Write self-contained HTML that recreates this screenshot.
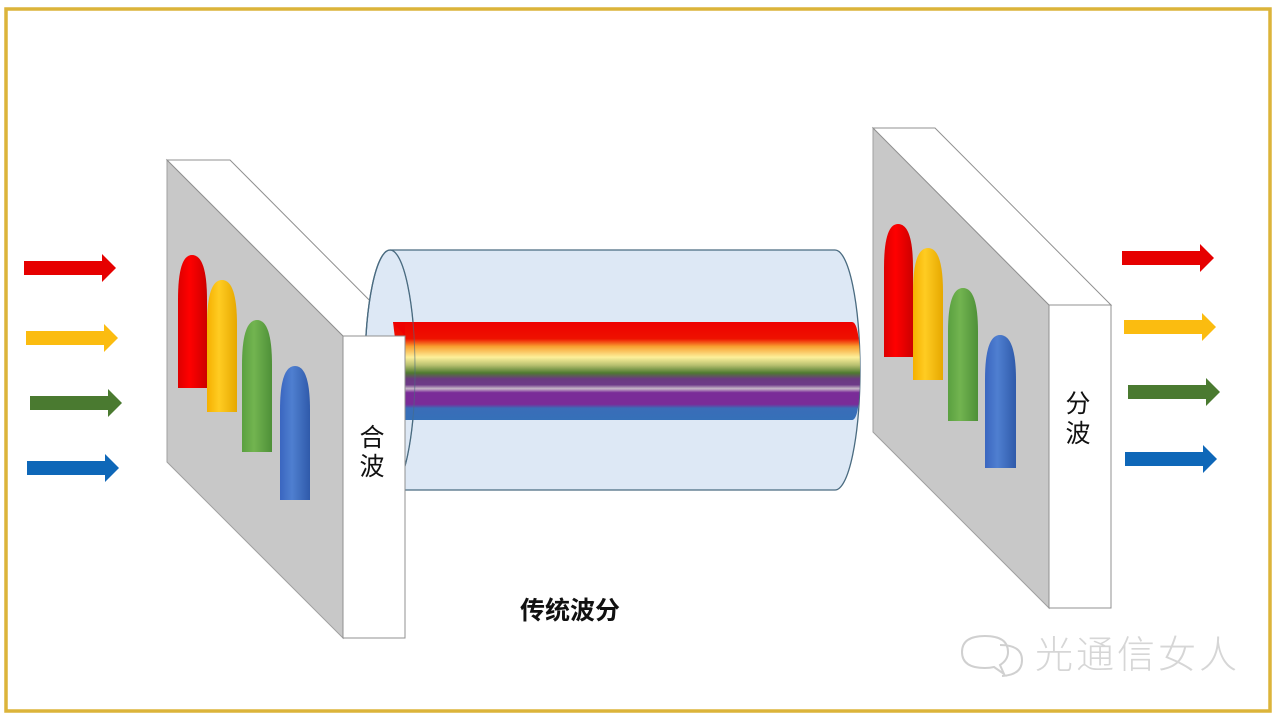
<!DOCTYPE html>
<html><head><meta charset="utf-8"><style>
html,body{margin:0;padding:0;background:#fff;width:1280px;height:720px;overflow:hidden}
svg{display:block}
</style></head><body>
<svg width="1280" height="720" viewBox="0 0 1280 720" xmlns="http://www.w3.org/2000/svg">
<defs>
<linearGradient id="beam" x1="0" y1="0" x2="0" y2="1">
<stop offset="0" stop-color="#ee0000"/>
<stop offset="0.17" stop-color="#ee1100"/>
<stop offset="0.25" stop-color="#f8a030"/>
<stop offset="0.36" stop-color="#fdf09a"/>
<stop offset="0.44" stop-color="#b8c070"/>
<stop offset="0.52" stop-color="#4f7a30"/>
<stop offset="0.58" stop-color="#6a3a80"/>
<stop offset="0.64" stop-color="#6e3a88"/>
<stop offset="0.68" stop-color="#c8b8c8"/>
<stop offset="0.72" stop-color="#7a2c98"/>
<stop offset="0.84" stop-color="#7a2c98"/>
<stop offset="0.88" stop-color="#3a6db8"/>
<stop offset="1" stop-color="#3570b8"/>
</linearGradient>
<linearGradient id="gR" x1="0" x2="1"><stop offset="0" stop-color="#d00"/><stop offset=".4" stop-color="#f00"/><stop offset="1" stop-color="#c00"/></linearGradient>
<linearGradient id="gY" x1="0" x2="1"><stop offset="0" stop-color="#f5b000"/><stop offset=".4" stop-color="#ffcc22"/><stop offset="1" stop-color="#e6a800"/></linearGradient>
<linearGradient id="gG" x1="0" x2="1"><stop offset="0" stop-color="#5aa040"/><stop offset=".4" stop-color="#72b450"/><stop offset="1" stop-color="#4e9038"/></linearGradient>
<linearGradient id="gB" x1="0" x2="1"><stop offset="0" stop-color="#3a66c0"/><stop offset=".4" stop-color="#4f7fd0"/><stop offset="1" stop-color="#2f5aaa"/></linearGradient>
</defs>
<rect x="6" y="9" width="1264" height="702" fill="none" stroke="#dcb43a" stroke-width="3.5"/>

<g>
<path d="M24 261 H102 V254 L116 268 L102 282 V275 H24 Z" fill="#e60000"/>
<path d="M26 331 H104 V324 L118 338 L104 352 V345 H26 Z" fill="#fbbc10"/>
<path d="M30 396 H108 V389 L122 403 L108 417 V410 H30 Z" fill="#4a7a30"/>
<path d="M27 461 H105 V454 L119 468 L105 482 V475 H27 Z" fill="#0e67b8"/>
</g>
<g>
<path d="M1122 251 H1200 V244 L1214 258 L1200 272 V265 H1122 Z" fill="#e60000"/>
<path d="M1124 320 H1202 V313 L1216 327 L1202 341 V334 H1124 Z" fill="#fbbc10"/>
<path d="M1128 385 H1206 V378 L1220 392 L1206 406 V399 H1128 Z" fill="#4a7a30"/>
<path d="M1125 452 H1203 V445 L1217 459 L1203 473 V466 H1125 Z" fill="#0e67b8"/>
</g>

<polygon points="167,160 343,336 343,638 167,462" fill="#c8c8c8" stroke="#a0a0a0" stroke-width="1"/>
<polygon points="167,160 230,160 405,336 343,336" fill="#fff" stroke="#909090" stroke-width="1"/>
<g>
<path d="M178 388 V300 Q178 255 192 255 Q207 255 207 300 V388 Z" fill="url(#gR)"/>
<path d="M207 412 V325 Q207 280 222 280 Q237 280 237 325 V412 Z" fill="url(#gY)"/>
<path d="M242 452 V365 Q242 320 257 320 Q272 320 272 365 V452 Z" fill="url(#gG)"/>
<path d="M280 500 V410 Q280 366 295 366 Q310 366 310 410 V500 Z" fill="url(#gB)"/>
</g>

<path d="M390 250 H835 A25 120 0 0 1 835 490 H390 A25 120 0 0 1 390 250 Z" fill="#dde8f5" stroke="#4a6b80" stroke-width="1.3"/>
<ellipse cx="390" cy="370" rx="25" ry="120" fill="none" stroke="#4a6b80" stroke-width="1.3"/>
<path d="M393 322 H852 Q860 322 860 371 Q860 420 852 420 H405 Z" fill="url(#beam)"/>
<polygon points="393,322 405,322 405,336" fill="#ee0000"/>
<path d="M390 250 A25 120 0 0 1 415 370 A25 120 0 0 1 390 490" fill="none" stroke="#4a6b80" stroke-width="1" opacity="0.6"/>

<rect x="343" y="336" width="62" height="302" fill="#fff" stroke="#909090" stroke-width="1"/>
<text x="372" y="446" font-family="Liberation Sans, Noto Sans CJK SC, sans-serif" font-size="25" text-anchor="middle" fill="#111">合</text>
<text x="372" y="475" font-family="Liberation Sans, Noto Sans CJK SC, sans-serif" font-size="25" text-anchor="middle" fill="#111">波</text>

<polygon points="873,128 1049,305 1049,608 873,432" fill="#c8c8c8" stroke="#a0a0a0" stroke-width="1"/>
<polygon points="873,128 935,128 1111,305 1049,305" fill="#fff" stroke="#909090" stroke-width="1"/>
<g>
<path d="M884 357 V268 Q884 224 898 224 Q913 224 913 268 V357 Z" fill="url(#gR)"/>
<path d="M913 380 V292 Q913 248 928 248 Q943 248 943 292 V380 Z" fill="url(#gY)"/>
<path d="M948 421 V332 Q948 288 963 288 Q978 288 978 332 V421 Z" fill="url(#gG)"/>
<path d="M985 468 V380 Q985 335 1000 335 Q1016 335 1016 380 V468 Z" fill="url(#gB)"/>
</g>
<rect x="1049" y="305" width="62" height="303" fill="#fff" stroke="#909090" stroke-width="1"/>
<text x="1078" y="412" font-family="Liberation Sans, Noto Sans CJK SC, sans-serif" font-size="25" text-anchor="middle" fill="#111">分</text>
<text x="1078" y="442" font-family="Liberation Sans, Noto Sans CJK SC, sans-serif" font-size="25" text-anchor="middle" fill="#111">波</text>

<text x="570" y="619" font-family="Liberation Sans, Noto Sans CJK SC, sans-serif" font-size="25" font-weight="bold" text-anchor="middle" fill="#111">传统波分</text>

<g fill="none" stroke="#d0d0d0" stroke-width="2">
<path d="M985 668 Q962 668 962 652 Q962 636 985 636 Q1008 636 1008 652 Q1008 660 1000 665 L1004 674 L994 667 Q990 668 985 668 Z"/>
<path d="M1000 645 Q1022 645 1022 660 Q1022 675 1002 676"/>
</g>
<text x="1035" y="668" font-family="Liberation Sans, Noto Sans CJK SC, sans-serif" font-size="38" font-weight="300" fill="#d6d6d6" letter-spacing="3">光通信女人</text>
</svg>
</body></html>
